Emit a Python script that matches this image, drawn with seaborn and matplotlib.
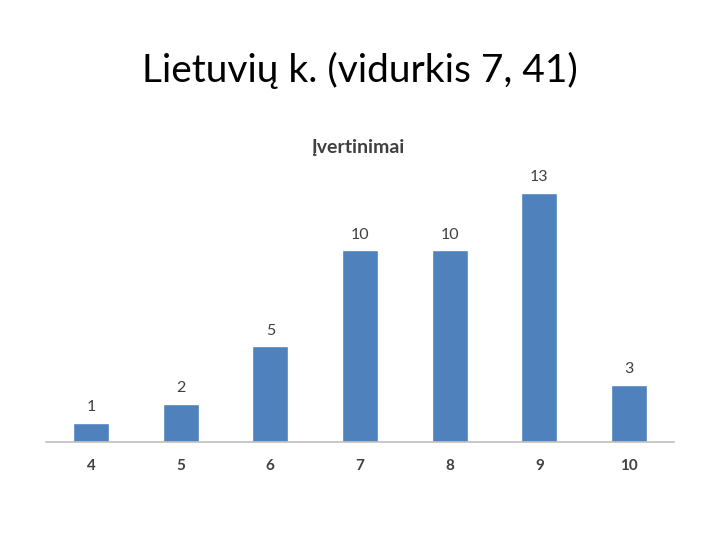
import matplotlib
matplotlib.use("Agg")
import matplotlib.pyplot as plt
import seaborn as sns
import pandas as pd

# data
grades = ["4", "5", "6", "7", "8", "9", "10"]
counts = [1, 2, 5, 10, 10, 13, 3]

df = pd.DataFrame({"grade": grades, "count": counts})

sns.set_style("white")
plt.rcParams["font.family"] = ["Lato", "DejaVu Sans"]

fig = plt.figure(figsize=(7.2, 5.4), dpi=100)
ax = fig.add_axes([0.064, 0.181, 0.872, 0.498])

sns.barplot(data=df, x="grade", y="count", color="#4F81BD", width=0.4,
            saturation=1, ax=ax)

# value labels above each bar
for i, v in enumerate(counts):
    ax.text(i, v + 0.45, str(v), ha="center", va="bottom", fontsize=11.5,
            color="#404040")

ax.set_xlim(-0.5, 6.5)
ax.set_ylim(0, 14)
ax.set_xlabel("")
ax.set_ylabel("")
ax.set_yticks([])
for side in ["left", "right", "top"]:
    ax.spines[side].set_visible(False)
ax.spines["bottom"].set_color("#BFBFBF")
ax.spines["bottom"].set_linewidth(1.2)
ax.tick_params(axis="x", length=0, pad=12, labelsize=11, labelcolor="#404040")
for lab in ax.get_xticklabels():
    lab.set_fontweight("bold")

fig.text(0.5, 0.87, "Lietuvių k. (vidurkis 7, 41)", ha="center", va="center",
         fontsize=28, color="black")
fig.text(0.497, 0.726, "Įvertinimai", ha="center", va="center",
         fontsize=14, fontweight="bold", color="#404040")

fig.savefig("out.png", dpi=100)
